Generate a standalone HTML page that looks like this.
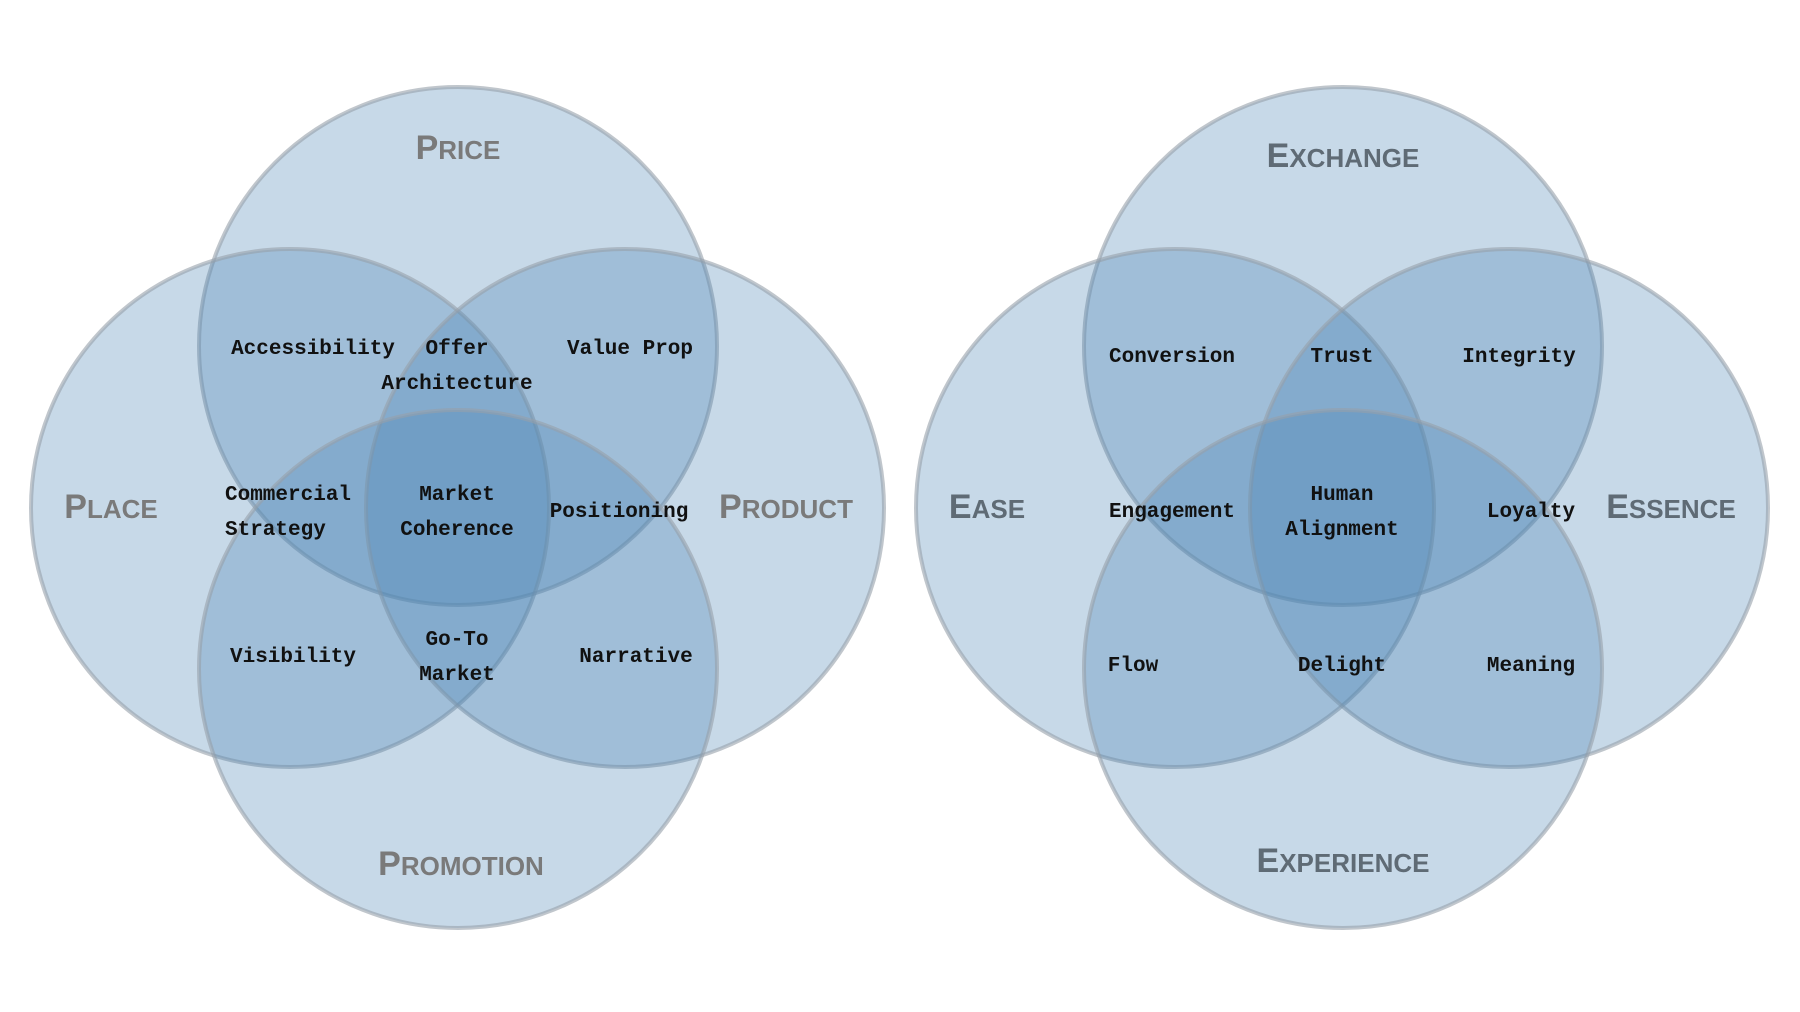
<!DOCTYPE html>
<html><head><meta charset="utf-8"><style>
html,body{margin:0;padding:0;background:#fff;}
svg{display:block;}
.c{fill:rgba(70,130,180,0.3);stroke:rgba(150,160,170,0.6);stroke-width:4;}
.l{font-family:"Liberation Mono",monospace;font-weight:bold;font-size:21px;fill:#111;text-anchor:middle;}
.h{font-family:"Liberation Sans",sans-serif;font-weight:bold;font-size:34px;text-anchor:middle;letter-spacing:0px;}
.h tspan{font-size:26px;}
.h1{fill:#7a7a7a;}
.h2{fill:#5f6b75;}
</style></head><body>
<svg width="1800" height="1012" viewBox="0 0 1800 1012" xmlns="http://www.w3.org/2000/svg">
<g transform="translate(-2,0)">
<circle class="c" cx="460" cy="346" r="259"/>
<circle class="c" cx="292" cy="508" r="259"/>
<circle class="c" cx="627" cy="508" r="259"/>
<circle class="c" cx="460" cy="669" r="259"/>

<text class="h h1" x="460" y="159">P<tspan>RICE</tspan></text>
<text class="h h1" x="113" y="518">P<tspan>LACE</tspan></text>
<text class="h h1" x="788" y="518">P<tspan>RODUCT</tspan></text>
<text class="h h1" x="463" y="875">P<tspan>ROMOTION</tspan></text>

<text class="l" x="315" y="354">Accessibility</text>
<text class="l" x="459" y="354">Offer</text>
<text class="l" x="459" y="389">Architecture</text>
<text class="l" x="632" y="354">Value Prop</text>
<text class="l" x="227" y="500" style="text-anchor:start">Commercial</text>
<text class="l" x="227" y="535" style="text-anchor:start">Strategy</text>
<text class="l" x="459" y="500">Market</text>
<text class="l" x="459" y="535">Coherence</text>
<text class="l" x="621" y="517">Positioning</text>
<text class="l" x="295" y="662">Visibility</text>
<text class="l" x="459" y="645">Go-To</text>
<text class="l" x="459" y="680">Market</text>
<text class="l" x="638" y="662">Narrative</text>
</g>
<g transform="translate(-7,0)">
<circle class="c" cx="1350" cy="346" r="259"/>
<circle class="c" cx="1182" cy="508" r="259"/>
<circle class="c" cx="1516" cy="508" r="259"/>
<circle class="c" cx="1350" cy="669" r="259"/>

<text class="h h2" x="1350" y="167">E<tspan>XCHANGE</tspan></text>
<text class="h h2" x="994" y="518">E<tspan>ASE</tspan></text>
<text class="h h2" x="1678" y="518">E<tspan>SSENCE</tspan></text>
<text class="h h2" x="1350" y="872">E<tspan>XPERIENCE</tspan></text>

<text class="l" x="1179" y="362">Conversion</text>
<text class="l" x="1349" y="362">Trust</text>
<text class="l" x="1526" y="362">Integrity</text>
<text class="l" x="1179" y="517">Engagement</text>
<text class="l" x="1349" y="500">Human</text>
<text class="l" x="1349" y="535">Alignment</text>
<text class="l" x="1538" y="517">Loyalty</text>
<text class="l" x="1140" y="671">Flow</text>
<text class="l" x="1349" y="671">Delight</text>
<text class="l" x="1538" y="671">Meaning</text>
</g>
</svg>
</body></html>
